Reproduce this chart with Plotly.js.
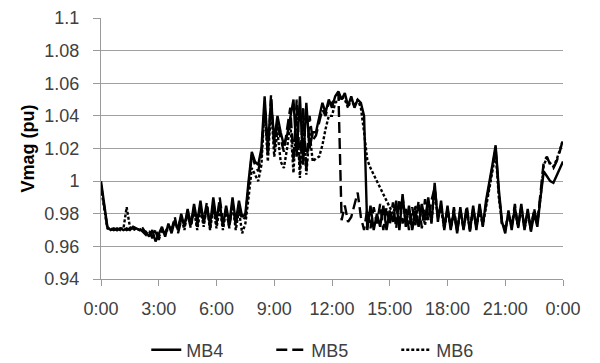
<!DOCTYPE html>
<html>
<head>
<meta charset="utf-8">
<script src="https://cdn.plot.ly/plotly-3.0.1.min.js"></script>
<style>html,body{margin:0;padding:0;background:#fff;}#chart{width:600px;height:363px;}</style>
</head>
<body>
<div id="chart"></div>
<script>
// time in hours, 10-minute steps from 0:00 to 24:00
const hours = Array.from({length: 145}, (_, i) => i / 6);

const xTickVals = [0, 3, 6, 9, 12, 15, 18, 21, 24];
const xTickText = ["0:00", "3:00", "6:00", "9:00", "12:00", "15:00", "18:00", "21:00", "0:00"];
const yTickVals = [0.94, 0.96, 0.98, 1.0, 1.02, 1.04, 1.06, 1.08, 1.1];
const yTickText = ["0.94", "0.96", "0.98", "1", "1.02", "1.04", "1.06", "1.08", "1.1"];

const mb4 = [
  1.000, 0.985, 0.972, 0.970, 0.971, 0.970,   // 0:00
  0.971, 0.970, 0.971, 0.970, 0.972, 0.971,   // 1:00
  0.970, 0.970, 0.969, 0.966, 0.970, 0.963,   // 2:00
  0.968, 0.972, 0.966, 0.974, 0.968, 0.976,   // 3:00
  0.970, 0.980, 0.972, 0.983, 0.973, 0.986,   // 4:00
  0.975, 0.988, 0.974, 0.984, 0.973, 0.990,   // 5:00
  0.976, 0.987, 0.972, 0.985, 0.974, 0.990,   // 6:00
  0.975, 0.988, 0.978, 0.980, 1.000, 1.018,   // 7:00
  1.012, 1.010, 1.020, 1.052, 1.020, 1.050,   // 8:00
  1.025, 1.040, 1.030, 1.022, 1.028, 1.040,   // 9:00
  1.050, 1.015, 1.052, 1.010, 1.048, 1.020,   // 10:00
  1.030, 1.030, 1.040, 1.048, 1.042, 1.050,   // 11:00
  1.045, 1.052, 1.055, 1.050, 1.054, 1.046,   // 12:00
  1.052, 1.045, 1.050, 1.048, 1.040, 0.970,   // 13:00
  0.985, 0.970, 0.980, 0.972, 0.985, 0.970,   // 14:00
  0.982, 0.975, 0.988, 0.970, 0.992, 0.972,   // 15:00
  0.985, 0.970, 0.982, 0.972, 0.986, 0.976,   // 16:00
  0.990, 0.974, 0.999, 0.975, 0.988, 0.970,   // 17:00
  0.985, 0.970, 0.982, 0.968, 0.984, 0.970,   // 18:00
  0.983, 0.969, 0.985, 0.970, 0.986, 0.972,   // 19:00
  0.988, 0.998, 1.010, 1.022, 0.995, 0.975,   // 20:00
  0.968, 0.982, 0.970, 0.984, 0.972, 0.986,   // 21:00
  0.970, 0.983, 0.969, 0.980, 0.972, 0.990,   // 22:00
  1.006, 1.003, 1.000, 0.999, 1.003, 1.007,   // 23:00
  1.012                                        // 24:00
];

const mb5 = [
  0.998, 0.983, 0.971, 0.971, 0.970, 0.971,   // 0:00
  0.970, 0.971, 0.970, 0.971, 0.971, 0.970,   // 1:00
  0.971, 0.969, 0.967, 0.970, 0.965, 0.969,   // 2:00
  0.964, 0.970, 0.968, 0.972, 0.970, 0.978,   // 3:00
  0.968, 0.976, 0.974, 0.980, 0.971, 0.984,   // 4:00
  0.972, 0.985, 0.976, 0.987, 0.971, 0.986,   // 5:00
  0.973, 0.990, 0.975, 0.983, 0.971, 0.987,   // 6:00
  0.973, 0.985, 0.976, 0.978, 0.997, 1.016,   // 7:00
  1.010, 1.006, 1.016, 1.048, 1.015, 1.053,   // 8:00
  1.020, 1.036, 1.026, 1.018, 1.032, 1.045,   // 9:00
  1.012, 1.050, 1.008, 1.046, 1.006, 1.040,   // 10:00
  1.025, 1.028, 1.036, 1.044, 1.040, 1.048,   // 11:00
  1.048, 1.050, 1.054, 0.976, 0.985, 0.975,   // 12:00
  0.978, 0.985, 0.993, 0.978, 0.970, 0.983,   // 13:00
  0.971, 0.984, 0.974, 0.986, 0.970, 0.984,   // 14:00
  0.973, 0.987, 0.971, 0.989, 0.974, 0.983,   // 15:00
  0.970, 0.984, 0.973, 0.988, 0.971, 0.989,   // 16:00
  0.976, 0.988, 0.996, 0.978, 0.985, 0.972,   // 17:00
  0.983, 0.971, 0.984, 0.969, 0.982, 0.971,   // 18:00
  0.985, 0.970, 0.983, 0.972, 0.984, 0.974,   // 19:00
  0.986, 0.996, 1.008, 1.020, 0.993, 0.973,   // 20:00
  0.970, 0.980, 0.972, 0.986, 0.971, 0.984,   // 21:00
  0.972, 0.981, 0.970, 0.983, 0.974, 0.992,   // 22:00
  1.012, 1.015, 1.010, 1.008, 1.012, 1.018,   // 23:00
  1.026                                        // 24:00
];

const mb6 = [
  0.996, 0.982, 0.971, 0.970, 0.971, 0.970,   // 0:00
  0.971, 0.971, 0.984, 0.972, 0.970, 0.971,   // 1:00
  0.970, 0.971, 0.968, 0.969, 0.966, 0.970,   // 2:00
  0.966, 0.969, 0.970, 0.970, 0.972, 0.974,   // 3:00
  0.972, 0.978, 0.970, 0.982, 0.974, 0.982,   // 4:00
  0.970, 0.983, 0.972, 0.985, 0.970, 0.984,   // 5:00
  0.971, 0.984, 0.970, 0.982, 0.972, 0.986,   // 6:00
  0.970, 0.982, 0.968, 0.974, 0.990, 1.008,   // 7:00
  1.004, 1.000, 1.010, 1.045, 1.012, 1.046,   // 8:00
  1.015, 1.030, 1.012, 1.008, 1.020, 1.036,   // 9:00
  1.005, 1.044, 1.002, 1.040, 1.004, 1.030,   // 10:00
  1.012, 1.014, 1.015, 1.022, 1.032, 1.040,   // 11:00
  1.040, 1.048, 1.050, 1.052, 1.050, 1.045,   // 12:00
  1.050, 1.046, 1.050, 1.045, 1.030, 1.013,   // 13:00
  1.008, 1.004, 1.000, 0.996, 0.992, 0.988,   // 14:00
  0.984, 0.980, 0.986, 0.973, 0.990, 0.975,   // 15:00
  0.982, 0.971, 0.985, 0.974, 0.983, 0.973,   // 16:00
  0.987, 0.975, 0.994, 0.978, 0.983, 0.971,   // 17:00
  0.982, 0.972, 0.980, 0.970, 0.982, 0.972,   // 18:00
  0.981, 0.971, 0.983, 0.972, 0.982, 0.973,   // 19:00
  0.984, 0.994, 1.006, 1.018, 0.990, 0.974,   // 20:00
  0.971, 0.979, 0.973, 0.982, 0.973, 0.983,   // 21:00
  0.971, 0.980, 0.972, 0.982, 0.975, 0.990,   // 22:00
  1.010, 1.014, 1.011, 1.009, 1.013, 1.019,   // 23:00
  1.025                                        // 24:00
];

const seriesNames = ["MB4", "MB5", "MB6"];
const seriesValues = [mb4, mb5, mb6];
const seriesDash = ["solid", "11px,5px", "3px,2px"];

const traces = seriesNames.map((name, k) => ({
  x: hours,
  y: seriesValues[k],
  name: name,
  type: "scatter",
  mode: "lines",
  line: {color: "#000000", width: 2.4, dash: seriesDash[k]}
}));

const layout = {
  width: 600,
  height: 363,
  margin: {l: 101, r: 37, t: 18, b: 84, autoexpand: false},
  paper_bgcolor: "#ffffff",
  plot_bgcolor: "#ffffff",
  font: {family: "Liberation Sans, Arial, sans-serif", size: 18, color: "#404040"},
  showlegend: true,
  legend: {
    orientation: "h",
    x: 0.098, xanchor: "left",
    y: -0.272, yanchor: "middle",
    font: {size: 18, color: "#404040"},
    entrywidth: 80,
    entrywidthmode: "pixels",
    tracegroupgap: 0
  },
  xaxis: {
    range: [0, 24],
    tickmode: "array",
    tickvals: xTickVals,
    ticktext: xTickText,
    showgrid: false,
    zeroline: false,
    showline: true,
    linecolor: "#9a9a9a",
    linewidth: 1,
    ticks: "outside",
    ticklen: 6,
    tickcolor: "#9a9a9a",
    ticklabelstandoff: 7,
    tickfont: {size: 18, color: "#404040"}
  },
  yaxis: {
    range: [0.94, 1.1],
    tickmode: "array",
    tickvals: yTickVals,
    ticktext: yTickText,
    showgrid: true,
    gridcolor: "#a0a0a0",
    gridwidth: 1,
    zeroline: false,
    showline: true,
    linecolor: "#9a9a9a",
    linewidth: 1,
    ticks: "outside",
    ticklen: 7,
    tickcolor: "#9a9a9a",
    ticklabelstandoff: 10,
    tickfont: {size: 18, color: "#404040"},
    title: {text: "<b>Vmag (pu)</b>", font: {size: 18, color: "#000000"}, standoff: 5}
  }
};

Plotly.newPlot("chart", traces, layout, {staticPlot: true, displayModeBar: false});
</script>
</body>
</html>
